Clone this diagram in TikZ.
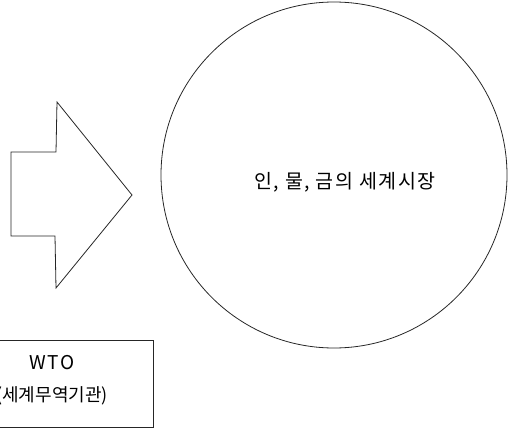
\documentclass[tikz,border=0pt]{standalone}
\usepackage{fontspec}
\newfontfamily\kr{Noto Sans CJK KR}
\newfontfamily\krwide[LetterSpace=8]{Noto Sans CJK KR}
\begin{document}
\begin{tikzpicture}[x=1pt,y=-1pt,
  outline/.style={draw=black!85,line width=0.8pt},
  lbl/.style={font=\kr\fontsize{18}{21}\selectfont,text=black,inner sep=0pt}]
\useasboundingbox (0,0) rectangle (508,436);
\clip (0,0) rectangle (508,436);
% world market circle
\node[outline,circle,minimum size=346pt,inner sep=0pt] (market) at (334,175) {};
\node[lbl,font=\krwide\fontsize{19.5}{23}\selectfont] (mtext) at (345,182) {인, 물, 금의 세계시장};
% big arrow
\draw[outline,line join=miter] (11,152) -- (56,152) -- (57,102) -- (132,195) -- (56,288) -- (55,236) -- (11,236) -- cycle;
% WTO box
\node[outline,rectangle,minimum width=160pt,minimum height=87pt,inner sep=0pt] (wto) at (73,383.5) {};
\node[lbl,font=\krwide\fontsize{19}{22}\selectfont] (wtoa) at (52,363) {WTO};
\node[lbl] (wtob) at (52,396) {(세계무역기관)};
\end{tikzpicture}
\end{document}
